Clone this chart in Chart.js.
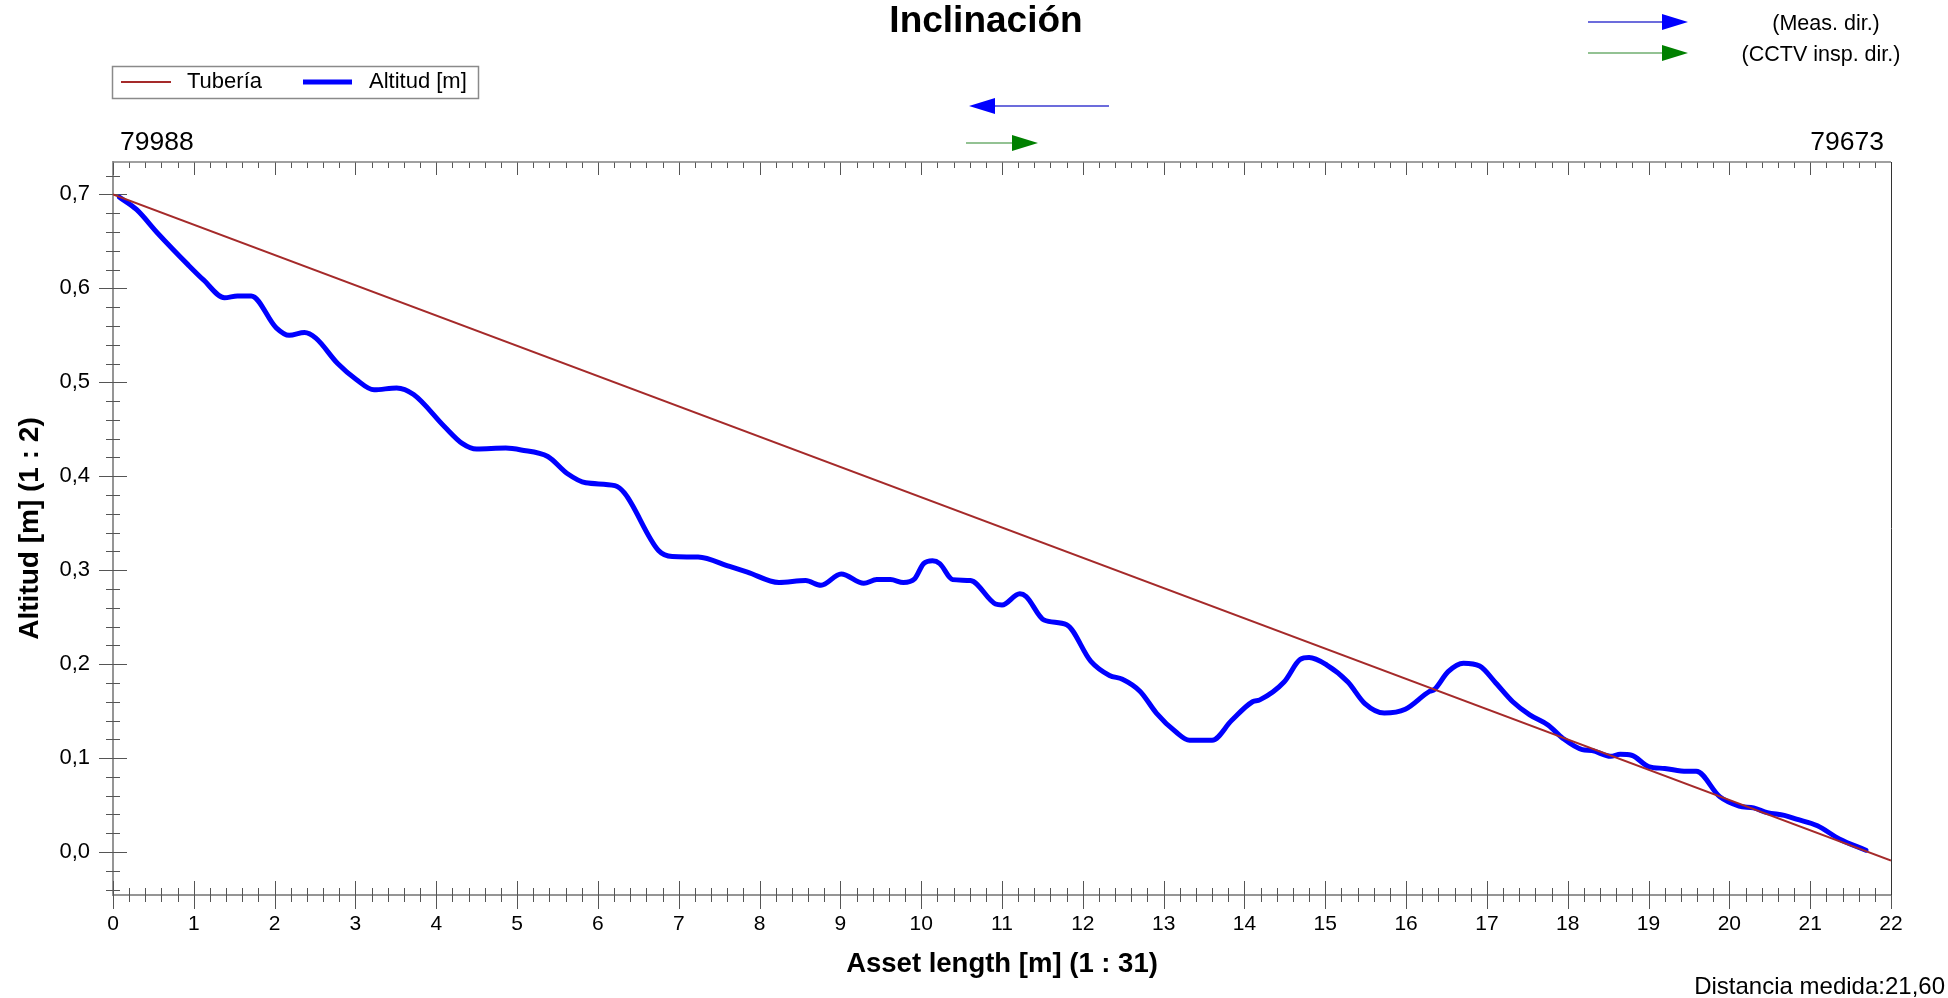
<!DOCTYPE html>
<html>
<head>
<meta charset="utf-8">
<title>Inclinación</title>
<script src="https://cdn.jsdelivr.net/npm/chart.js@4.4.1/dist/chart.umd.min.js"></script>
<style>
  html, body { margin: 0; padding: 0; background: #fff; }
  #wrap { width: 1948px; height: 998px; }
</style>
</head>
<body>
<div id="wrap"><canvas id="profile" width="1948" height="998"></canvas></div>
<script>
const FONT = "'Liberation Sans', Arial, sans-serif";

// distancia medida a lo largo del tramo [m]
const distances = [
  0.08, 0.29, 0.55, 0.93, 1.12, 1.38, 1.54, 1.71, 2.02, 2.18,
  2.37, 2.51, 2.78, 3.01, 3.23, 3.51, 3.72, 4.10, 4.32, 4.50,
  4.86, 5.05, 5.38, 5.62, 5.85, 6.21, 6.33, 6.75, 6.92, 7.24,
  7.63, 7.85, 8.24, 8.57, 8.76, 9.01, 9.29, 9.45, 9.62, 9.78,
  9.92, 10.03, 10.14, 10.23, 10.39, 10.61, 10.92, 11.00, 11.22, 11.30,
  11.52, 11.80, 12.10, 12.33, 12.49, 12.71, 12.91, 13.15, 13.32, 13.60,
  13.84, 14.10, 14.19, 14.49, 14.69, 14.80, 15.02, 15.28, 15.49, 15.73,
  15.99, 16.29, 16.35, 16.52, 16.71, 16.91, 17.11, 17.32, 17.53, 17.76,
  17.94, 18.18, 18.30, 18.53, 18.65, 18.79, 19.00, 19.20, 19.47, 19.59,
  19.88, 20.12, 20.30, 20.47, 20.68, 20.83, 21.09, 21.36, 21.69
];
// altitud medida [m]
const altitudes = [
  0.697, 0.684, 0.659, 0.625, 0.609, 0.590, 0.592, 0.592, 0.558, 0.550,
  0.553, 0.547, 0.520, 0.503, 0.492, 0.494, 0.487, 0.453, 0.435, 0.429,
  0.430, 0.428, 0.421, 0.403, 0.393, 0.390, 0.382, 0.321, 0.3145, 0.314,
  0.304, 0.298, 0.287, 0.289, 0.284, 0.296, 0.286, 0.290, 0.290, 0.287,
  0.291, 0.307, 0.310, 0.307, 0.290, 0.289, 0.264, 0.263, 0.275, 0.272,
  0.247, 0.242, 0.203, 0.188, 0.184, 0.171, 0.148, 0.128, 0.119, 0.119,
  0.140, 0.160, 0.162, 0.181, 0.205, 0.207, 0.199, 0.181, 0.158, 0.148,
  0.152, 0.171, 0.173, 0.192, 0.201, 0.198, 0.180, 0.160, 0.146, 0.135,
  0.121, 0.109, 0.108, 0.102, 0.104, 0.103, 0.091, 0.089, 0.086, 0.086,
  0.059, 0.049, 0.047, 0.042, 0.039, 0.035, 0.028, 0.014, 0.002
];
// tubería teórica
const pipeDistances = [0, 22];
const pipeAltitudes = [0.7, -0.009];

const xTickValues = [0, 1, 2, 3, 4, 5, 6, 7, 8, 9, 10, 11, 12, 13, 14, 15, 16, 17, 18, 19, 20, 21, 22];
const yTickValues = [0, 0.1, 0.2, 0.3, 0.4, 0.5, 0.6, 0.7];
const startNode = '79988';
const endNode = '79673';
const measuredDistance = '21,60';

const toPoints = (xs, ys) => xs.map((x, i) => ({ x: x, y: ys[i] }));

function arrow(ctx, from, to, y, lineColor, headColor) {
  const dir = Math.sign(to - from);
  const base = to - dir * 26;
  ctx.strokeStyle = lineColor;
  ctx.lineWidth = 1.5;
  ctx.beginPath();
  ctx.moveTo(from, y);
  ctx.lineTo(base, y);
  ctx.stroke();
  ctx.fillStyle = headColor;
  ctx.beginPath();
  ctx.moveTo(to, y);
  ctx.lineTo(base, y - 8);
  ctx.lineTo(base, y + 8);
  ctx.closePath();
  ctx.fill();
}

// ticks cruzados, marco y textos sueltos
const decor = {
  id: 'decor',
  beforeDatasetsDraw(chart) {
    const { ctx, chartArea: a, scales: { x, y } } = chart;
    ctx.save();
    ctx.strokeStyle = '#555';
    ctx.lineWidth = 1;
    ctx.beginPath();
    for (let i = 0; i <= 110; i++) {
      const px = Math.round(x.getPixelForValue(i / 5)) + 0.5;
      const major = i % 5 === 0;
      const half = major ? 14 : 7;
      ctx.moveTo(px, a.bottom - half);
      ctx.lineTo(px, a.bottom + half);
      ctx.moveTo(px, a.top);
      ctx.lineTo(px, a.top + (major ? 13 : 6));
    }
    for (let k = -2; k <= 36; k++) {
      const py = Math.round(y.getPixelForValue(k / 50)) + 0.5;
      const half = k % 5 === 0 ? 14 : 7;
      ctx.moveTo(a.left - half, py);
      ctx.lineTo(a.left + half, py);
    }
    ctx.stroke();

    ctx.strokeStyle = '#808080';
    ctx.lineWidth = 1.5;
    ctx.beginPath();
    ctx.moveTo(a.left, a.top);
    ctx.lineTo(a.right, a.top);
    ctx.stroke();
    ctx.strokeStyle = '#333';
    ctx.lineWidth = 1;
    ctx.beginPath();
    ctx.moveTo(a.right + 0.5, a.top);
    ctx.lineTo(a.right + 0.5, a.bottom);
    ctx.stroke();
    ctx.restore();
  },
  afterDraw(chart) {
    const { ctx } = chart;
    const ds = chart.data.datasets;
    ctx.save();
    ctx.fillStyle = '#000';
    ctx.textBaseline = 'alphabetic';

    // título
    ctx.font = 'bold 37px ' + FONT;
    ctx.textAlign = 'center';
    ctx.fillText('Inclinación', 986, 32);

    // leyenda
    ctx.strokeStyle = '#8a8a8a';
    ctx.lineWidth = 1.5;
    ctx.strokeRect(112.5, 66.5, 366, 32);
    ctx.font = '22px ' + FONT;
    ctx.textAlign = 'left';
    const items = [
      { x0: 121, x1: 171, tx: 187 },
      { x0: 303, x1: 352, tx: 369 }
    ];
    items.forEach((it, i) => {
      ctx.strokeStyle = ds[i].borderColor;
      ctx.lineWidth = ds[i].borderWidth;
      ctx.beginPath();
      ctx.moveTo(it.x0, 82);
      ctx.lineTo(it.x1, 82);
      ctx.stroke();
      ctx.fillText(ds[i].label, it.tx, 88);
    });

    // nodos
    ctx.font = '26.5px ' + FONT;
    ctx.textAlign = 'left';
    ctx.fillText(startNode, 120, 150);
    ctx.textAlign = 'right';
    ctx.fillText(endNode, 1884, 150);

    // flechas de dirección
    arrow(ctx, 1588, 1688, 22, '#3b3bd0', '#0000ff');
    arrow(ctx, 1588, 1688, 53, '#6fae6f', '#008000');
    arrow(ctx, 1109, 969, 106, '#3b3bd0', '#0000ff');
    arrow(ctx, 966, 1038, 143, '#6fae6f', '#008000');
    ctx.fillStyle = '#000';
    ctx.font = '21.5px ' + FONT;
    ctx.textAlign = 'center';
    ctx.fillText('(Meas. dir.)', 1826, 30);
    ctx.fillText('(CCTV insp. dir.)', 1821, 61);

    // distancia medida
    ctx.font = '24px ' + FONT;
    ctx.textAlign = 'right';
    ctx.fillText('Distancia medida:' + measuredDistance, 1945, 994);
    ctx.restore();
  }
};

new Chart(document.getElementById('profile'), {
  type: 'line',
  data: {
    datasets: [
      {
        label: 'Tubería',
        data: toPoints(pipeDistances, pipeAltitudes),
        borderColor: '#a52a2a',
        borderWidth: 2,
        pointRadius: 0,
        fill: false
      },
      {
        label: 'Altitud [m]',
        data: toPoints(distances, altitudes),
        borderColor: '#0000ff',
        borderWidth: 5,
        pointRadius: 0,
        cubicInterpolationMode: 'monotone',
        borderJoinStyle: 'round',
        borderCapStyle: 'round',
        fill: false
      }
    ]
  },
  options: {
    responsive: false,
    animation: false,
    devicePixelRatio: 1,
    events: [],
    layout: { padding: { left: 0, top: 162, right: 57, bottom: 0 } },
    plugins: {
      legend: { display: false },
      title: { display: false },
      tooltip: { enabled: false }
    },
    scales: {
      x: {
        type: 'linear',
        min: 0,
        max: 22,
        afterBuildTicks: (scale) => { scale.ticks = xTickValues.map(v => ({ value: v })); },
        afterFit: (scale) => { scale.height = 103; },
        grid: { display: false, drawTicks: false },
        border: { display: true, color: '#959595', width: 2 },
        ticks: {
          autoSkip: false,
          maxRotation: 0,
          padding: 17,
          color: '#000',
          font: { family: FONT, size: 21 }
        },
        title: {
          display: true,
          text: 'Asset length [m] (1 : 31)',
          color: '#000',
          font: { family: FONT, size: 27.5, weight: 'bold' },
          padding: { top: 0, bottom: 17 }
        }
      },
      y: {
        type: 'linear',
        min: -0.0457,
        max: 0.7345,
        afterBuildTicks: (scale) => { scale.ticks = yTickValues.map(v => ({ value: v })); },
        afterFit: (scale) => { scale.width = 113; },
        grid: { display: false, drawTicks: false },
        border: { display: true, color: '#959595', width: 2 },
        ticks: {
          padding: 23,
          color: '#000',
          font: { family: FONT, size: 22 },
          callback: (v) => v.toFixed(1).replace('.', ',')
        },
        title: {
          display: true,
          text: 'Altitud [m] (1 : 2)',
          color: '#000',
          font: { family: FONT, size: 28, weight: 'bold' },
          padding: { top: 13, bottom: 0 }
        }
      }
    }
  },
  plugins: [decor]
});
</script>
</body>
</html>
